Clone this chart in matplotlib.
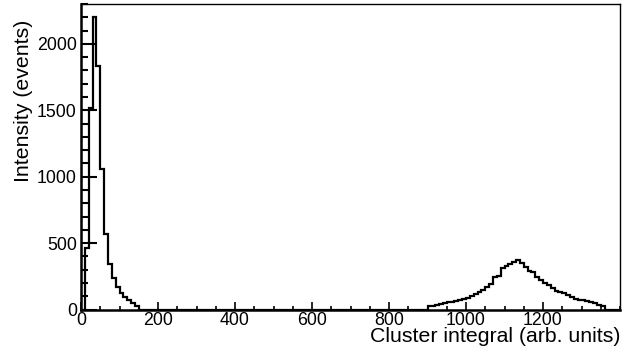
import matplotlib.pyplot as plt
import numpy as np

plt.rcParams['font.family'] = ['Liberation Sans', 'DejaVu Sans']

# bin width 10, histogram range 0..1400
bin_width = 10
x_max = 1400
# low-amplitude peak, bins starting at 10
low_start = 10
low_counts = [460, 1520, 2200, 1830, 1055, 565, 345, 235, 170, 125, 95, 72, 50, 25]
# high-amplitude peak, bins starting at 900
high_start = 900
high_counts = [25, 30, 35, 40, 50, 55, 60, 65, 75, 80,
               90, 100, 115, 130, 150, 170, 195, 245, 250, 315,
               330, 345, 360, 375, 350, 320, 290, 280, 245, 220,
               200, 185, 160, 140, 135, 125, 110, 95, 80, 70,
               75, 65, 55, 50, 35, 25]

edges = np.arange(0, x_max + bin_width, bin_width)
counts = np.zeros(len(edges) - 1)
i0 = low_start // bin_width
counts[i0:i0 + len(low_counts)] = low_counts
i1 = high_start // bin_width
counts[i1:i1 + len(high_counts)] = high_counts

fig = plt.figure(figsize=(6.4, 3.56), dpi=100)
ax = fig.add_axes([81 / 640, 1 - 309.5 / 356, (620 - 81) / 640, (309.5 - 4) / 356])

ax.stairs(counts, edges, color='black', linewidth=1.6)

ax.set_xlim(0, x_max)
ax.set_ylim(0, 2300)
ax.set_xticks(np.arange(0, 1201, 200))
ax.set_xticks(np.arange(0, 1401, 50), minor=True)
ax.set_yticks(np.arange(0, 2001, 500))
ax.set_yticks(np.arange(0, 2301, 100), minor=True)

ax.tick_params(axis='y', which='major', direction='in', length=11.5, width=1.5, labelsize=12.8, pad=3)
ax.tick_params(axis='y', which='minor', direction='in', length=5, width=1.5)
ax.tick_params(axis='x', which='major', direction='in', length=6, width=1.2, labelsize=12.8, pad=1.5)
ax.tick_params(axis='x', which='minor', direction='in', length=3, width=1.2)

ax.spines['left'].set_linewidth(1.8)
ax.spines['bottom'].set_linewidth(1.8)
ax.spines['top'].set_linewidth(1.0)
ax.spines['right'].set_linewidth(1.0)

ax.set_xlabel('Cluster integral (arb. units)', fontsize=15.3, loc='right')
ax.xaxis.set_label_coords(1.0, -0.058)
ax.set_ylabel('Intensity (events)', fontsize=15.3, loc='top')
ax.yaxis.set_label_coords(-0.089, 0.948)

fig.savefig('out.png', dpi=100)
